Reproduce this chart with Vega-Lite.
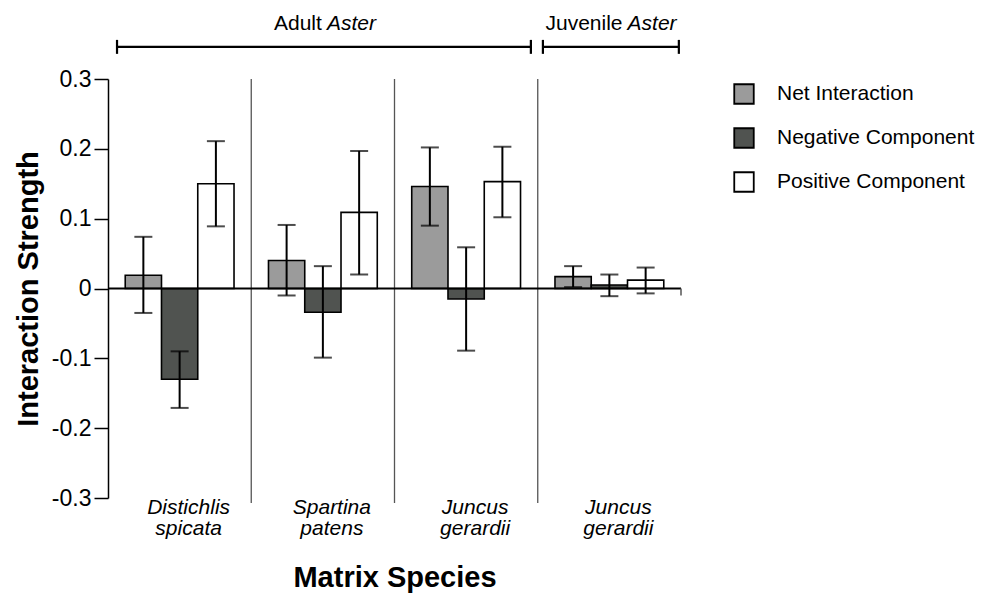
{
  "$schema": "https://vega.github.io/schema/vega-lite/v6.json",
  "width": 573,
  "height": 419,
  "autosize": "none",
  "padding": {"left": 108, "top": 79, "right": 305, "bottom": 98},
  "background": "white",
  "config": {
    "view": {"stroke": null},
    "font": "Liberation Sans",
    "text": {"font": "Liberation Sans", "color": "black"}
  },
  "datasets": {
    "bars": [
      {"species": "Distichlis spicata", "component": "Net Interaction", "value": 0.019, "lo": -0.035, "hi": 0.074},
      {"species": "Distichlis spicata", "component": "Negative Component", "value": -0.130, "lo": -0.171, "hi": -0.090},
      {"species": "Distichlis spicata", "component": "Positive Component", "value": 0.150, "lo": 0.089, "hi": 0.211},
      {"species": "Spartina patens", "component": "Net Interaction", "value": 0.040, "lo": -0.010, "hi": 0.091},
      {"species": "Spartina patens", "component": "Negative Component", "value": -0.034, "lo": -0.099, "hi": 0.032},
      {"species": "Spartina patens", "component": "Positive Component", "value": 0.109, "lo": 0.020, "hi": 0.197},
      {"species": "Juncus gerardii", "component": "Net Interaction", "value": 0.146, "lo": 0.090, "hi": 0.202},
      {"species": "Juncus gerardii", "component": "Negative Component", "value": -0.015, "lo": -0.089, "hi": 0.059},
      {"species": "Juncus gerardii", "component": "Positive Component", "value": 0.153, "lo": 0.102, "hi": 0.203},
      {"species": "Juncus gerardii (juvenile)", "component": "Net Interaction", "value": 0.017, "lo": 0.002, "hi": 0.032},
      {"species": "Juncus gerardii (juvenile)", "component": "Negative Component", "value": 0.005, "lo": -0.011, "hi": 0.020},
      {"species": "Juncus gerardii (juvenile)", "component": "Positive Component", "value": 0.012, "lo": -0.007, "hi": 0.030}
    ]
  },
  "layer": [
    {
      "data": {"name": "bars"},
      "mark": {"type": "bar", "stroke": "black", "strokeWidth": 1.6},
      "encoding": {
        "x": {
          "field": "species", "type": "nominal",
          "scale": {"domain": ["Distichlis spicata", "Spartina patens", "Juncus gerardii", "Juncus gerardii (juvenile)"], "paddingInner": 0, "paddingOuter": 0},
          "axis": {
            "title": "Matrix Species", "titleFontSize": 29, "titleFontWeight": "bold", "titleColor": "black", "titleFont": "Liberation Sans",
            "titlePadding": 25,
            "domain": false, "ticks": false, "grid": false, "labelAngle": 0,
            "labelFontSize": 21, "labelFontStyle": "italic", "labelFont": "Liberation Sans", "labelColor": "black",
            "labelExpr": "slice(split(datum.label, ' '), 0, 2)", "labelLineHeight": 21, "labelPadding": -2, "labelBaseline": "top", "labelOffset": 9
          }
        },
        "xOffset": {
          "field": "component", "type": "nominal",
          "scale": {"domain": ["Net Interaction", "Negative Component", "Positive Component"], "paddingInner": 0, "paddingOuter": 0.475}
        },
        "y": {
          "field": "value", "type": "quantitative",
          "scale": {"domain": [-0.3, 0.3], "nice": false, "zero": false},
          "axis": {
            "title": "Interaction Strength", "titleFontSize": 29, "titleFontWeight": "bold", "titleColor": "black", "titleFont": "Liberation Sans",
            "titlePadding": 8,
            "values": [-0.3, -0.2, -0.1, 0, 0.1, 0.2, 0.3],
            "labelExpr": "datum.value == 0 ? '0' : (datum.value < 0 ? '-' : '') + format(abs(datum.value), '.1f')",
            "labelFontSize": 23, "labelFont": "Liberation Sans", "labelColor": "black", "labelPadding": 3,
            "domainColor": "black", "domainWidth": 1.5, "tickColor": "black", "tickSize": 14, "tickWidth": 1.5, "grid": false
          }
        },
        "y2": {"datum": 0},
        "fill": {
          "field": "component", "type": "nominal",
          "scale": {"domain": ["Net Interaction", "Negative Component", "Positive Component"], "range": ["#9b9b9b", "#505350", "#ffffff"]},
          "legend": {
            "title": null, "orient": "none", "legendX": 625, "legendY": 4,
            "symbolType": "square", "symbolSize": 380, "symbolStrokeColor": "black", "symbolStrokeWidth": 1.8, "symbolOpacity": 1, "symbolFillOpacity": 1,
            "labelFontSize": 21, "labelFont": "Liberation Sans", "labelColor": "black", "labelOffset": 22, "labelLimit": 300, "rowPadding": 16, "padding": 0
          }
        }
      }
    },
    {
      "data": {"values": [{"species": "Spartina patens"}, {"species": "Juncus gerardii"}, {"species": "Juncus gerardii (juvenile)"}]},
      "mark": {"type": "rule", "color": "#555555", "strokeWidth": 1.3},
      "encoding": {
        "x": {"field": "species", "type": "nominal", "bandPosition": 0},
        "y": {"datum": 0.3},
        "y2": {"datum": -0.307}
      }
    },
    {
      "data": {"values": [{}]},
      "mark": {"type": "rule", "color": "black", "strokeWidth": 2},
      "encoding": {"y": {"datum": 0}}
    },
    {
      "data": {"values": [{"species": "Juncus gerardii (juvenile)"}]},
      "mark": {"type": "rule", "color": "#555555", "strokeWidth": 1.5},
      "encoding": {
        "x": {"field": "species", "type": "nominal", "bandPosition": 1},
        "y": {"datum": 0},
        "y2": {"datum": -0.01}
      }
    },
    {
      "data": {"name": "bars"},
      "mark": {"type": "rule", "color": "black", "strokeWidth": 2},
      "encoding": {
        "x": {"field": "species", "type": "nominal"},
        "xOffset": {"field": "component", "type": "nominal"},
        "y": {"field": "lo", "type": "quantitative"},
        "y2": {"field": "hi"}
      }
    },
    {
      "data": {"name": "bars"},
      "mark": {"type": "tick", "color": "black", "thickness": 2, "size": 18, "orient": "horizontal"},
      "encoding": {
        "x": {"field": "species", "type": "nominal"},
        "xOffset": {"field": "component", "type": "nominal"},
        "y": {"field": "lo", "type": "quantitative"}
      }
    },
    {
      "data": {"name": "bars"},
      "mark": {"type": "tick", "color": "black", "thickness": 2, "size": 18, "orient": "horizontal"},
      "encoding": {
        "x": {"field": "species", "type": "nominal"},
        "xOffset": {"field": "component", "type": "nominal"},
        "y": {"field": "hi", "type": "quantitative"}
      }
    },
    {
      "data": {"values": [{"species": "Distichlis spicata", "b": "Juncus gerardii"}]},
      "mark": {"type": "rule", "color": "black", "strokeWidth": 2.2, "clip": false},
      "encoding": {
        "x": {"field": "species", "type": "nominal", "bandPosition": 0.063},
        "x2": {"field": "b", "bandPosition": 0.952},
        "y": {"datum": 0.346}
      }
    },
    {
      "data": {"values": [{"species": "Juncus gerardii (juvenile)", "b": "Juncus gerardii (juvenile)"}]},
      "mark": {"type": "rule", "color": "black", "strokeWidth": 2.2, "clip": false},
      "encoding": {
        "x": {"field": "species", "type": "nominal", "bandPosition": 0.036},
        "x2": {"field": "b", "bandPosition": 0.985},
        "y": {"datum": 0.346}
      }
    },
    {
      "data": {"values": [{"species": "Distichlis spicata"}]},
      "mark": {"type": "rule", "color": "black", "strokeWidth": 2.2, "clip": false},
      "encoding": {
        "x": {"field": "species", "type": "nominal", "bandPosition": 0.063},
        "y": {"datum": 0.356}, "y2": {"datum": 0.336}
      }
    },
    {
      "data": {"values": [{"species": "Juncus gerardii"}]},
      "mark": {"type": "rule", "color": "black", "strokeWidth": 2.2, "clip": false},
      "encoding": {
        "x": {"field": "species", "type": "nominal", "bandPosition": 0.952},
        "y": {"datum": 0.356}, "y2": {"datum": 0.336}
      }
    },
    {
      "data": {"values": [{"species": "Juncus gerardii (juvenile)"}]},
      "mark": {"type": "rule", "color": "black", "strokeWidth": 2.2, "clip": false},
      "encoding": {
        "x": {"field": "species", "type": "nominal", "bandPosition": 0.036},
        "y": {"datum": 0.356}, "y2": {"datum": 0.336}
      }
    },
    {
      "data": {"values": [{"species": "Juncus gerardii (juvenile)"}]},
      "mark": {"type": "rule", "color": "black", "strokeWidth": 2.2, "clip": false},
      "encoding": {
        "x": {"field": "species", "type": "nominal", "bandPosition": 0.985},
        "y": {"datum": 0.356}, "y2": {"datum": 0.336}
      }
    },
    {
      "data": {"values": [{"species": "Spartina patens", "t": "Adult"}]},
      "mark": {"type": "text", "align": "right", "baseline": "alphabetic", "fontSize": 21, "dx": -2, "clip": false},
      "encoding": {
        "x": {"field": "species", "type": "nominal", "bandPosition": 0.507},
        "y": {"datum": 0.37},
        "text": {"field": "t"}
      }
    },
    {
      "data": {"values": [{"species": "Spartina patens", "t": "Aster"}]},
      "mark": {"type": "text", "align": "left", "baseline": "alphabetic", "fontSize": 21, "fontStyle": "italic", "dx": 3, "clip": false},
      "encoding": {
        "x": {"field": "species", "type": "nominal", "bandPosition": 0.507},
        "y": {"datum": 0.37},
        "text": {"field": "t"}
      }
    },
    {
      "data": {"values": [{"species": "Juncus gerardii (juvenile)", "t": "Juvenile"}]},
      "mark": {"type": "text", "align": "right", "baseline": "alphabetic", "fontSize": 21, "dx": -2, "clip": false},
      "encoding": {
        "x": {"field": "species", "type": "nominal", "bandPosition": 0.606},
        "y": {"datum": 0.37},
        "text": {"field": "t"}
      }
    },
    {
      "data": {"values": [{"species": "Juncus gerardii (juvenile)", "t": "Aster"}]},
      "mark": {"type": "text", "align": "left", "baseline": "alphabetic", "fontSize": 21, "fontStyle": "italic", "dx": 3, "clip": false},
      "encoding": {
        "x": {"field": "species", "type": "nominal", "bandPosition": 0.606},
        "y": {"datum": 0.37},
        "text": {"field": "t"}
      }
    }
  ]
}
